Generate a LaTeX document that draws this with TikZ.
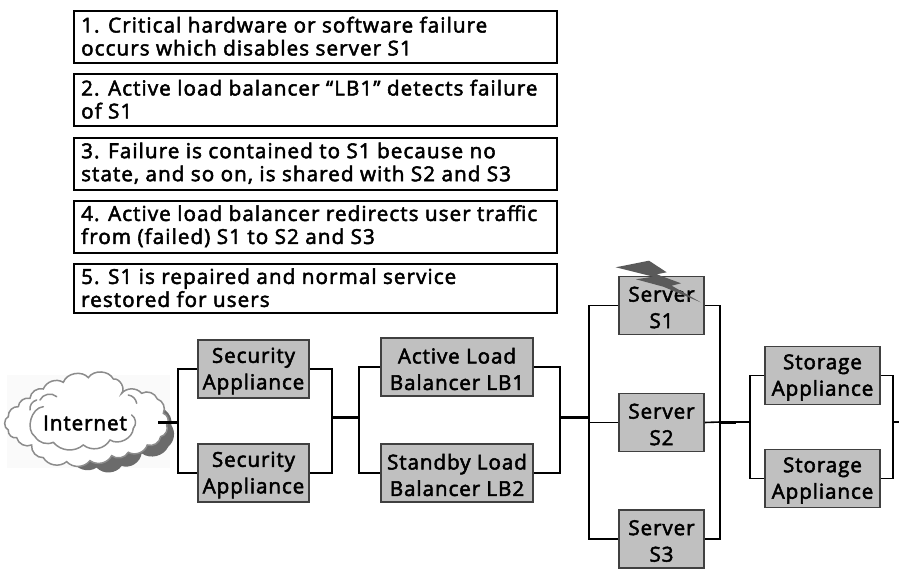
\documentclass[tikz,border=0pt]{standalone}
\usepackage{fontspec}
\setmainfont{Open Sans}
\newfontfamily\notefont[FakeBold=2.5,LetterSpace=5.3]{Open Sans}
\newfontfamily\boxfont[FakeBold=2.5,LetterSpace=4.5]{Open Sans}
\definecolor{boxgray}{RGB}{192,192,192}
\definecolor{boltgray}{RGB}{90,90,90}
\tikzset{x=1pt,y=-1pt,
 note/.style={draw=black,line width=2.4pt,fill=white,anchor=north west,inner sep=0pt},
 notetext/.style={anchor=west,inner sep=0pt,font=\fontsize{20.6}{23}\notefont,align=left,text=black},
 unitbox/.style={draw=black!75,line width=1.8pt,fill=boxgray,inner sep=0pt},
 unitlabel/.style={inner sep=0pt,align=center,font=\fontsize{20.6}{26.5}\boxfont,text=black},
 wire/.style={draw=black,line width=1.6pt,line cap=butt},
 bus/.style={draw=black,line width=3pt},
 puffline/.style={draw=black!45,line width=1.5pt,line cap=round}}
\begin{document}
\begin{tikzpicture}
\useasboundingbox (0,0) rectangle (899,569);
\fill[white] (0,0) rectangle (899,569);
% notes
\foreach \n/\y/\h/\t in {
 a/10/52/{1. Critical hardware or software failure\\occurs which disables server S1},
 b/73/52/{2. Active load balancer “LB1” detects failure\\of S1},
 c/137/52/{3. Failure is contained to S1 because no\\state, and so on, is shared with S2 and S3},
 d/200/52/{4. Active load balancer redirects user traffic\\from (failed) S1 to S2 and S3},
 e/263/49/{5. S1 is repaired and normal service\\restored for users}}{
 \node[note,minimum width=483pt,minimum height=\h pt] (note\n) at (73,\y) {};
 \node[notetext] (text\n) at ([xshift=8pt,yshift=1pt]note\n.west) {\t};
}
% cloud
\fill[black!2] (7,375) rectangle (170,468);
\begin{scope}[shift={(0,365)},x=.3333pt,y=-.3333pt]
 \fill[black!58] (215,285) to[bend right=50] (290,308) to[bend right=50] (365,303) to[bend right=50] (425,265) to[bend right=50] (505,245) to[bend right=40] (514,180) to[bend right=30] (495,135) -- (300,200) -- cycle;
 \filldraw[draw=black!45,fill=white,line width=1.5pt]
  (25,155) to[bend left=50] (55,125) to[bend left=50] (90,100) to[bend left=50] (130,72)
  to[bend left=50] (190,52) to[bend left=60] (265,38) to[bend left=60] (340,42) to[bend left=70] (365,85)
  to[bend left=50] (425,85) to[bend left=50] (472,102) to[bend left=50] (490,145) to[bend left=60] (500,180)
  to[bend left=50] (482,215) to[bend left=50] (442,240) to[bend left=50] (385,262) to[bend left=50] (335,272)
  to[bend left=50] (270,287) to[bend left=50] (200,290) to[bend left=50] (130,278) to[bend left=50] (95,240)
  to[bend left=50] (50,218) to[bend left=60] (25,195) to[bend left=70] cycle;
 \draw[puffline] (130,125) to[bend right=70] (105,215);
 \draw[puffline] (105,215) to[bend right=40] (160,232);
 \draw[puffline] (160,232) to[bend right=45] (250,240);
 \draw[puffline] (250,240) to[bend right=50] (330,225);
 \draw[puffline] (330,225) to[bend right=60] (400,190);
 \draw[puffline] (400,190) to[bend right=50] (395,150);
 \draw[puffline] (120,105) to[bend left=55] (170,95);
 \draw[puffline] (90,135) to[bend left=40] (110,105);
 \draw[puffline] (385,90) to[bend left=35] (410,115);
\end{scope}
\node[inner sep=0pt,font=\fontsize{20.6}{23}\boxfont,text=black] (internet) at (85,423) {Internet};
% units
\newcommand{\unit}[6]{\node[unitbox,minimum width=#4 pt,minimum height=#5 pt] (#1) at (#2,#3) {};
 \node[unitlabel] (#1text) at ([yshift=-2pt]#1.center) {#6};}
\unit{sa}{253.5}{369}{111}{58}{Security\\Appliance}
\unit{sb}{253.5}{473}{111}{58}{Security\\Appliance}
\unit{la}{457}{367}{152}{58}{Active Load\\Balancer LB1}
\unit{lb}{457}{473}{152}{58}{Standby Load\\Balancer LB2}
\unit{sx}{661.5}{305.5}{85}{58}{Server\\S1}
\unit{sy}{661.5}{422.5}{85}{58}{Server\\S2}
\unit{sz}{661.5}{539}{85}{58}{Server\\S3}
\unit{ta}{822.5}{375.5}{115}{58}{Storage\\Appliance}
\unit{tb}{822.5}{478.5}{115}{58}{Storage\\Appliance}
% junctions
\coordinate (j0) at (158,422);
\coordinate (j1) at (178,422);
\coordinate (j2) at (332,417);
\coordinate (j3) at (359,417);
\coordinate (j4) at (560,417);
\coordinate (j5) at (589,417);
\coordinate (j6) at (720,422);
\coordinate (j7) at (750,422);
\coordinate (j8) at (893,422);
\coordinate (j9) at (899,422);
\draw[wire] (sa.west) -| (j1) |- (sb.west);
\draw[wire] (sa.east) -| (j2) |- (sb.east);
\draw[wire] (la.west) -| (j3) |- (lb.west);
\draw[wire] (la.east) -| (j4) |- (lb.east);
\draw[wire] (sx.west) -| (j5) |- (sz.west);
\draw[wire] (sy.west) -- (sy.west -| j5);
\draw[wire] (sx.east) -| (j6) |- (sz.east);
\draw[wire] (sy.east) -- (j6);
\draw[wire] (ta.west) -| (j7) |- (tb.west);
\draw[wire] (ta.east) -| (j8) |- (tb.east);
\draw[bus] (j0) -- (j1);
\draw[bus] (j2) -- (j3);
\draw[bus] (j4) -- (j5);
\draw[bus] (j6) -- (736,422);
\draw[wire] (736,422) -- (j7);
\draw[wire] (j8) -- (j9);
% bolt
\fill[boltgray] (615.7,267.3) -- (649,260.7) -- (666.7,272.3) -- (656.7,274.3) -- (681,283.3) -- (671.7,285.7) -- (700.7,302.3) -- (663.3,286.7) -- (636,279.3) -- (653.3,276.7) -- cycle;
\end{tikzpicture}
\end{document}
